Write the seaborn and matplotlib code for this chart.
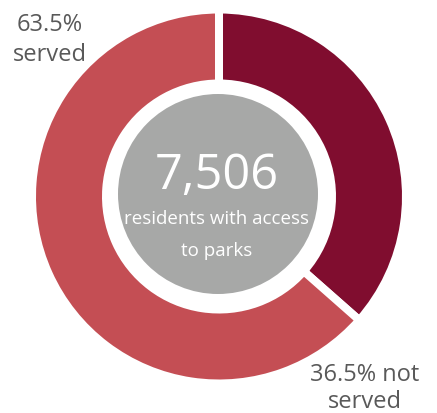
import matplotlib
matplotlib.use("Agg")
import matplotlib.pyplot as plt
import seaborn as sns
from matplotlib.patches import Circle

categories = ["not served", "served"]
shares = [36.5, 63.5]
colors = ["#800D2F", "#C44E54"]
total_label = "7,506"
sub_lines = ["residents with access", "to parks"]
served_lines = ["63.5%", "served"]
not_lines = ["36.5% not", "served"]

sns.set_theme(style="white")
plt.rcParams["font.family"] = ["Open Sans", "DejaVu Sans"]

W, H = 437, 414
fig = plt.figure(figsize=(W / 100, H / 100), dpi=100)
ax = fig.add_axes([0, 0, 1, 1])

cx, cy = 219, H - 197.5
R = 187
width = 74
lw_px = 8
ax.pie(shares, colors=colors, startangle=90, counterclock=False,
       center=(cx, cy), radius=R,
       wedgeprops=dict(width=width, edgecolor="white", linewidth=lw_px * 0.72))

ax.add_patch(Circle((218, H - 195), 100, facecolor="#A7A8A7", edgecolor="none", zorder=3))

ax.text(217, H - 189, total_label, ha="center", va="baseline", color="white",
        fontsize=35, zorder=4)
for txt, base in zip(sub_lines, [224, 256]):
    ax.text(217, H - base, txt, ha="center", va="baseline", color="white",
            fontsize=13.5, zorder=4)

for txt, base in zip(served_lines, [31, 61]):
    ax.text(50, H - base, txt, ha="center", va="baseline", color="#595959",
            fontsize=17)
for txt, base in zip(not_lines, [381, 408]):
    ax.text(365, H - base, txt, ha="center", va="baseline", color="#595959",
            fontsize=17)

ax.set_xlim(0, W)
ax.set_ylim(0, H)
ax.set_aspect("auto")
ax.axis("off")
fig.savefig("out.png", dpi=100)
